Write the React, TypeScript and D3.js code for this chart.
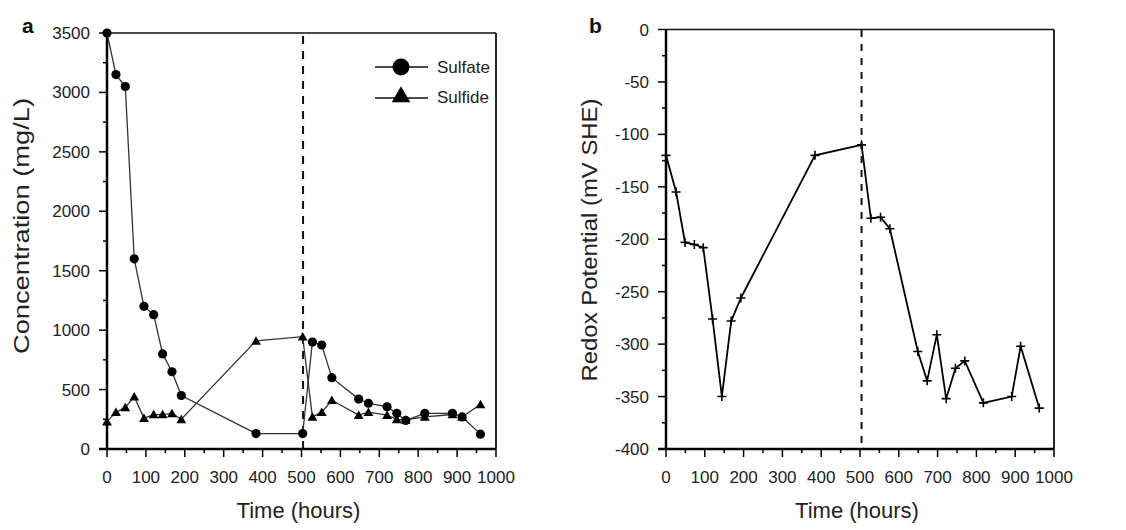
import React from "react";
import * as d3 from "d3";

// ---------- data ----------
const sulfateHours = [0, 23, 47, 70, 95, 120, 143, 167, 191, 383, 503, 528, 552, 578, 647, 672, 720, 745, 768, 817, 888, 913, 960];
const sulfateValues = [3500, 3150, 3050, 1600, 1200, 1130, 800, 650, 450, 130, 130, 900, 875, 600, 420, 385, 355, 300, 240, 300, 300, 270, 125];
const sulfideValues = [230, 310, 350, 440, 260, 290, 290, 300, 250, 910, 945, 270, 310, 410, 285, 310, 285, 250, 245, 270, 290, 270, 375];

const redoxHours = [0, 26, 49, 73, 96, 120, 144, 168, 193, 384, 504, 528, 553, 577, 649, 673, 698, 722, 746, 770, 818, 891, 914, 962];
const redoxValues = [-120, -155, -203, -205, -208, -276, -350, -278, -256, -120, -110, -180, -179, -190, -307, -335, -291, -352, -323, -316, -356, -350, -302, -361];

const xTickLabels = [0, 100, 200, 300, 400, 500, 600, 700, 800, 900, 1000];
const concTickLabels = [0, 500, 1000, 1500, 2000, 2500, 3000, 3500];
const redoxTickLabels = [-400, -350, -300, -250, -200, -150, -100, -50, 0];
const switchHour = 504;

const FONT = "'Liberation Sans', Arial, Helvetica, sans-serif";
const TXT = "#222";

type Scale = d3.ScaleLinear<number, number>;

function Axes({ x, y, yTicks, yMinorStep, xTitle, yTitle, yTitleX, yTitleY, yTitleLen, letter, letterX }: {
  x: Scale; y: Scale; yTicks: number[]; yMinorStep: number; xTitle: string; yTitle: string;
  yTitleX: number; yTitleY: number; yTitleLen: number; letter: string; letterX: number;
}) {
  const [x0, x1] = x.range();
  const [yb, yt] = y.range();
  const xMinor = d3.range(50, 1000, 100);
  const yDom = y.domain();
  const yMinor = d3.range(yDom[0] + yMinorStep, yDom[1], yMinorStep * 2);
  return (
    <g fontFamily={FONT}>
      {/* frame */}
      <line x1={x0} x2={x1} y1={yt} y2={yt} stroke="#111" strokeWidth={1.5} />
      <line x1={x1} x2={x1} y1={yt} y2={yb} stroke="#111" strokeWidth={1.8} />
      <line x1={x0} x2={x0} y1={yt} y2={yb} stroke="#000" strokeWidth={2.5} />
      <line x1={x0 - 8} x2={x1} y1={yb} y2={yb} stroke="#000" strokeWidth={2.5} />
      {/* x ticks */}
      {xTickLabels.map((t) => (
        <g key={"xt" + t}>
          <line x1={x(t)} x2={x(t)} y1={yb} y2={yb + 8} stroke="#000" strokeWidth={1.5} />
          <text x={x(t)} y={yb + 34} textAnchor="middle" fontSize={17} fill={TXT}>{t}</text>
        </g>
      ))}
      {xMinor.map((t) => (
        <line key={"xm" + t} x1={x(t)} x2={x(t)} y1={yb} y2={yb + 4} stroke="#000" strokeWidth={1.5} />
      ))}
      {/* y ticks */}
      {yTicks.map((t) => (
        <g key={"yt" + t}>
          <line x1={x0 - 8} x2={x0} y1={y(t)} y2={y(t)} stroke="#000" strokeWidth={1.5} />
          <text x={x0 - 17} y={y(t) + 6} textAnchor="end" fontSize={17} fill={TXT}>{t}</text>
        </g>
      ))}
      {yMinor.map((t) => (
        <line key={"ym" + t} x1={x0 - 4} x2={x0} y1={y(t)} y2={y(t)} stroke="#000" strokeWidth={1.5} />
      ))}
      {/* titles */}
      <text x={(x0 + x1) / 2 - 3} y={yb + 69} textAnchor="middle" fontSize={22} fill={TXT}>{xTitle}</text>
      <text transform={`translate(${yTitleX},${yTitleY}) rotate(-90)`} textAnchor="middle" fontSize={22}
        fill={TXT} textLength={yTitleLen} lengthAdjust="spacingAndGlyphs">{yTitle}</text>
      <text x={letterX} y={33} fontSize={21} fontWeight="bold" fill="#111">{letter}</text>
    </g>
  );
}

export default function App() {
  // Panel a
  const xa = d3.scaleLinear().domain([0, 1000]).range([107, 496]);
  const ya = d3.scaleLinear().domain([0, 3500]).range([449, 33]);
  // Panel b
  const xb = d3.scaleLinear().domain([0, 1000]).range([666, 1054]);
  const yb = d3.scaleLinear().domain([-400, 0]).range([449, 29.5]);

  const lineA = d3.line<[number, number]>().x((d) => xa(d[0])).y((d) => ya(d[1]));
  const lineB = d3.line<[number, number]>().x((d) => xb(d[0])).y((d) => yb(d[1]));

  const sulfatePts: [number, number][] = sulfateHours.map((h, i) => [h, sulfateValues[i]]);
  const sulfidePts: [number, number][] = sulfateHours.map((h, i) => [h, sulfideValues[i]]);
  const redoxPts: [number, number][] = redoxHours.map((h, i) => [h, redoxValues[i]]);

  const tri = d3.symbol(d3.symbolTriangle, 42)()!;
  const triBig = d3.symbol(d3.symbolTriangle, 150)()!;

  return (
    <svg width={1126} height={530} style={{ position: "absolute", left: 0, top: 0, background: "#fff" }}>
      <rect width={1126} height={530} fill="#fff" />
      {/* ---------- Panel a ---------- */}
      <line x1={xa(switchHour)} x2={xa(switchHour)} y1={36} y2={449} stroke="#111" strokeWidth={2} strokeDasharray="8,7" />
      <Axes x={xa} y={ya} yTicks={concTickLabels} yMinorStep={250} xTitle="Time (hours)" yTitle="Concentration (mg/L)"
        yTitleX={29} yTitleY={226} yTitleLen={256} letter="a" letterX={22} />
      <path d={lineA(sulfatePts)!} fill="none" stroke="#333" strokeWidth={1.3} />
      <path d={lineA(sulfidePts)!} fill="none" stroke="#333" strokeWidth={1.3} />
      {sulfatePts.map((p, i) => (
        <circle key={"sa" + i} cx={xa(p[0])} cy={ya(p[1])} r={4.6} fill="#000" />
      ))}
      {sulfidePts.map((p, i) => (
        <path key={"si" + i} d={tri} transform={`translate(${xa(p[0])},${ya(p[1]) + 1})`} fill="#000" />
      ))}
      {/* legend */}
      <g fontFamily={FONT}>
        <line x1={375} x2={428} y1={67} y2={67} stroke="#111" strokeWidth={1.5} />
        <circle cx={401} cy={67} r={8.5} fill="#000" />
        <text x={437} y={73} fontSize={17} fill={TXT}>Sulfate</text>
        <line x1={375} x2={428} y1={98} y2={98} stroke="#111" strokeWidth={1.5} />
        <path d={triBig} transform={`translate(401,97)`} fill="#000" />
        <text x={437} y={103} fontSize={17} fill={TXT}>Sulfide</text>
      </g>

      {/* ---------- Panel b ---------- */}
      <line x1={xb(switchHour)} x2={xb(switchHour)} y1={30} y2={449} stroke="#111" strokeWidth={2} strokeDasharray="7,7" />
      <Axes x={xb} y={yb} yTicks={redoxTickLabels} yMinorStep={25} xTitle="Time (hours)" yTitle="Redox Potential (mV SHE)"
        yTitleX={597} yTitleY={240} yTitleLen={283} letter="b" letterX={589} />
      <path d={lineB(redoxPts)!} fill="none" stroke="#000" strokeWidth={1.8} />
      {redoxPts.map((p, i) => (
        <path key={"rb" + i} d="M-4.5,0H4.5M0,-4.5V4.5" transform={`translate(${xb(p[0])},${yb(p[1])})`}
          stroke="#000" strokeWidth={1.6} fill="none" />
      ))}
    </svg>
  );
}
